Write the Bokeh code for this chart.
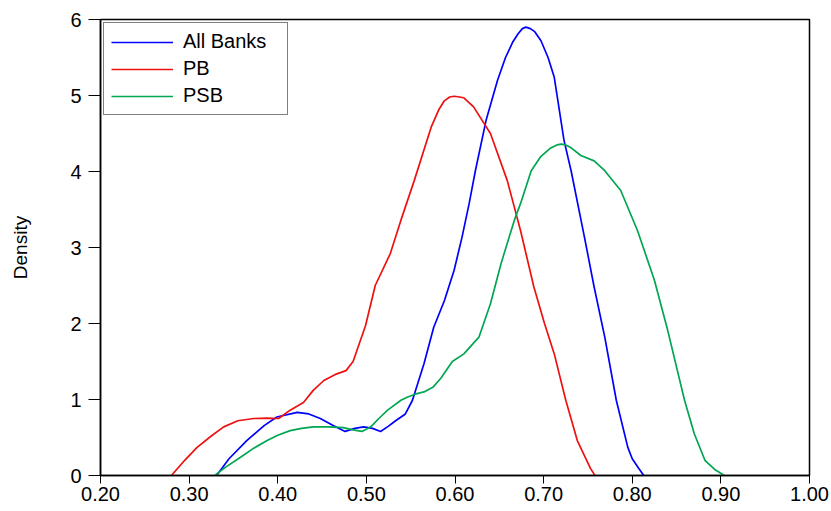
from bokeh.plotting import figure
from bokeh.models import Range1d, FixedTicker, Legend, LegendItem, NumeralTickFormatter
from bokeh.embed import file_html
from bokeh.resources import INLINE

series_names = ["All Banks", "PB", "PSB"]

ab_x = [0.331, 0.345, 0.365, 0.385, 0.399, 0.422, 0.435, 0.448, 0.462, 0.476, 0.487, 0.497,
        0.507, 0.516, 0.525, 0.533, 0.544, 0.552, 0.565, 0.576, 0.588, 0.599, 0.608, 0.616,
        0.623, 0.635, 0.648, 0.657, 0.665, 0.671, 0.676, 0.680, 0.685, 0.690, 0.697, 0.705,
        0.712, 0.723, 0.731, 0.746, 0.757, 0.769, 0.782, 0.795, 0.800, 0.807, 0.813]
ab_y = [0, 0.22, 0.46, 0.66, 0.77, 0.83, 0.81, 0.75, 0.66, 0.58, 0.62, 0.64,
        0.62, 0.58, 0.65, 0.72, 0.81, 0.99, 1.47, 1.95, 2.30, 2.70, 3.14, 3.58,
        4.01, 4.67, 5.20, 5.50, 5.70, 5.81, 5.88, 5.90, 5.88, 5.84, 5.72, 5.50,
        5.24, 4.41, 4.01, 3.14, 2.48, 1.82, 0.99, 0.37, 0.22, 0.10, 0]

pb_x = [0.280, 0.295, 0.309, 0.325, 0.339, 0.355, 0.373, 0.388, 0.401, 0.414, 0.429, 0.440,
        0.452, 0.465, 0.477, 0.485, 0.499, 0.510, 0.527, 0.539, 0.554, 0.573, 0.582, 0.588,
        0.594, 0.599, 0.605, 0.610, 0.621, 0.640, 0.659, 0.674, 0.689, 0.701, 0.712, 0.725,
        0.738, 0.753, 0.758]
pb_y = [0, 0.20, 0.37, 0.52, 0.64, 0.72, 0.75, 0.755, 0.75, 0.86, 0.96, 1.12,
        1.25, 1.33, 1.38, 1.50, 1.97, 2.50, 2.92, 3.36, 3.88, 4.58, 4.82, 4.93,
        4.98, 4.99, 4.98, 4.97, 4.85, 4.50, 3.88, 3.22, 2.48, 2.00, 1.60, 0.99,
        0.46, 0.09, 0]

psb_x = [0.329, 0.340, 0.358, 0.373, 0.388, 0.400, 0.414, 0.427, 0.440, 0.457, 0.474, 0.485,
         0.495, 0.505, 0.514, 0.524, 0.539, 0.546, 0.555, 0.565, 0.575, 0.584, 0.597, 0.610,
         0.627, 0.640, 0.652, 0.667, 0.674, 0.686, 0.697, 0.708, 0.715, 0.720, 0.725, 0.730,
         0.742, 0.757, 0.769, 0.787, 0.806, 0.825, 0.840, 0.859, 0.870, 0.882, 0.893, 0.904]
psb_y = [0, 0.10, 0.24, 0.36, 0.46, 0.53, 0.59, 0.62, 0.64, 0.64, 0.63, 0.60,
         0.58, 0.64, 0.75, 0.86, 0.99, 1.03, 1.07, 1.10, 1.16, 1.28, 1.50, 1.60,
         1.82, 2.26, 2.79, 3.36, 3.58, 4.01, 4.20, 4.31, 4.35, 4.36, 4.35, 4.32,
         4.21, 4.14, 4.01, 3.75, 3.22, 2.57, 1.91, 0.99, 0.55, 0.20, 0.08, 0]

x_ticks = [0.2, 0.3, 0.4, 0.5, 0.6, 0.7, 0.8, 0.9, 1.0]
y_ticks = [0, 1, 2, 3, 4, 5, 6]

FONT = "Liberation Sans"

p = figure(width=831, height=511, output_backend="svg", toolbar_location=None,
           x_range=Range1d(0.2, 1.0), y_range=Range1d(0, 6),
           min_border_left=100, min_border_right=22, min_border_top=19, min_border_bottom=36)
p.background_fill_color = "white"
p.border_fill_color = "white"
p.outline_line_color = "black"
p.outline_line_width = 1.5
p.grid.visible = False

r1 = p.line(ab_x, ab_y, line_color="#0000ff", line_width=1.7)
r2 = p.line(pb_x, pb_y, line_color="#ee1111", line_width=1.7)
r3 = p.line(psb_x, psb_y, line_color="#00a651", line_width=1.7)

for ax in (p.xaxis[0], p.yaxis[0]):
    ax.axis_line_color = "black"
    ax.axis_line_width = 1.5
    ax.major_tick_line_color = "black"
    ax.major_tick_in = 0
    ax.minor_tick_line_color = None
    ax.major_label_text_font = FONT
    ax.major_label_text_font_size = "20px"
    ax.major_label_text_color = "black"

p.xaxis[0].ticker = FixedTicker(ticks=x_ticks)
p.xaxis[0].formatter = NumeralTickFormatter(format="0.00")
p.xaxis[0].major_tick_out = 8
p.xaxis[0].major_label_standoff = 3
p.yaxis[0].ticker = FixedTicker(ticks=y_ticks)
p.yaxis[0].major_tick_out = 12
p.yaxis[0].major_label_standoff = 7
p.yaxis[0].major_label_orientation = "horizontal"
p.yaxis[0].axis_label = "Density"
p.yaxis[0].axis_label_text_font = FONT
p.yaxis[0].axis_label_text_font_size = "19px"
p.yaxis[0].axis_label_text_font_style = "normal"
p.yaxis[0].axis_label_text_color = "black"
p.yaxis[0].axis_label_standoff = 36

legend = Legend(items=[LegendItem(label=series_names[0], renderers=[r1]),
                       LegendItem(label=series_names[1], renderers=[r2]),
                       LegendItem(label=series_names[2], renderers=[r3])],
                location="top_left")
legend.margin = 3
legend.padding = 7
legend.spacing = 4
legend.glyph_width = 62
legend.glyph_height = 20
legend.label_height = 20
legend.label_width = 97
legend.label_standoff = 10
legend.label_text_font = FONT
legend.label_text_font_size = "20px"
legend.label_text_color = "black"
legend.border_line_color = "black"
legend.border_line_width = 1.5
legend.background_fill_alpha = 1
p.add_layout(legend)

open("out.html", "w").write(file_html(p, INLINE))
